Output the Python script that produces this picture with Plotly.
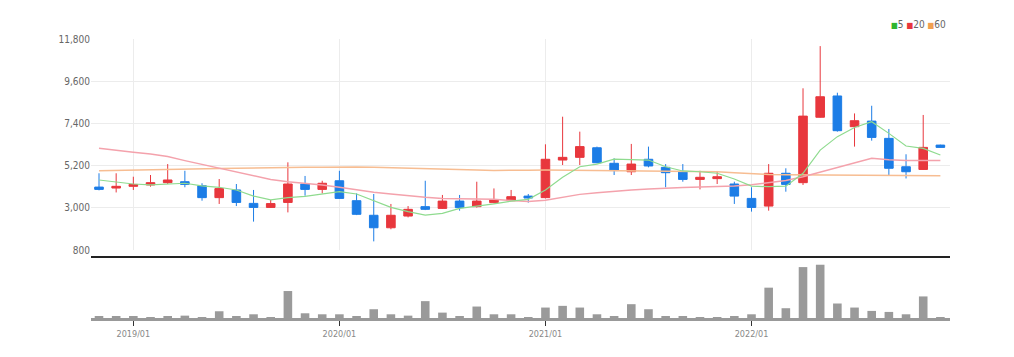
import plotly.graph_objects as go

months = ["2018/11", "2018/12"] + [f"{y}/{m:02d}" for y in (2019, 2020, 2021, 2022) for m in range(1, 13)]

open_ = [4080, 4030, 4120, 4190, 4310, 4360, 4150, 3530, 3930, 3230,
         3020, 3280, 4240, 3960, 4410, 3370, 2610, 1960, 2570, 3060,
         2970, 3350, 3060, 3270, 3370, 3610, 3530, 5490, 5630, 6130,
         5320, 4880, 5530, 5110, 4880, 4480, 4520, 4240, 3490, 3090,
         4800, 4310, 7720, 8830, 7230, 7520, 6620, 5140, 5000, 6270]
high = [4800, 4800, 4620, 4710, 5280, 4930, 4280, 4500, 4240, 3930,
        3410, 5370, 4660, 4410, 4930, 3750, 3720, 3200, 3090, 4410,
        3670, 3670, 4360, 4010, 3930, 3720, 6310, 7750, 6970, 6190,
        5580, 6330, 6190, 5280, 5280, 4930, 4920, 4360, 4070, 5280,
        5060, 9230, 11430, 9000, 7920, 8320, 7110, 5790, 7840, 6290]
low = [3910, 3800, 3930, 4100, 4240, 4070, 3370, 3200, 3090, 2280,
       3000, 2760, 3630, 3750, 3460, 2620, 1250, 1880, 2500, 2880,
       2940, 2850, 3010, 3230, 3370, 3270, 3490, 5230, 5230, 5320,
       4710, 4710, 5110, 4070, 4360, 3960, 4240, 3200, 2800, 2850,
       3840, 4190, 7700, 6970, 6190, 6500, 4660, 4530, 4970, 6140]
close = [3960, 4120, 4220, 4310, 4450, 4220, 3530, 4000, 3280, 3020,
         3220, 4240, 3960, 4280, 3490, 2660, 1960, 2610, 2920, 2920,
         3350, 3010, 3350, 3410, 3580, 3510, 5530, 5630, 6190, 5350,
         4940, 5280, 5180, 4830, 4480, 4590, 4620, 3610, 3020, 4800,
         4220, 7780, 8790, 7020, 7540, 6670, 5060, 4880, 6150, 6150]

ma5 = [4450, 4360, 4240, 4190, 4220, 4280, 4140, 4070, 3930, 3610,
       3410, 3530, 3600, 3720, 3840, 3720, 3370, 3020, 2800, 2620,
       2710, 2970, 3090, 3200, 3350, 3440, 3930, 4590, 5140, 5280,
       5540, 5530, 5490, 5140, 4920, 4880, 4800, 4500, 4130, 4100,
       4130, 4800, 6010, 6710, 7190, 7490, 6880, 6220, 6100, 5750]
ma20 = [6100, 5980, 5890, 5800, 5670, 5460, 5270, 5060, 4850, 4660,
        4480, 4360, 4280, 4190, 4070, 3930, 3810, 3720, 3630, 3550,
        3490, 3480, 3460, 3440, 3380, 3330, 3400, 3540, 3700, 3790,
        3870, 3930, 3980, 4030, 4060, 4090, 4110, 4140, 4200, 4300,
        4420, 4620, 4850, 5100, 5350, 5580, 5500, 5460, 5460, 5460]
ma60 = [4930, 4950, 4970, 5000, 5020, 5030, 5040, 5050, 5060, 5080,
        5090, 5100, 5110, 5120, 5140, 5130, 5110, 5080, 5060, 5030,
        5000, 4990, 4970, 4950, 4940, 4960, 4970, 4960, 4960, 4950,
        4940, 4940, 4930, 4930, 4920, 4900, 4880, 4830, 4770, 4740,
        4720, 4710, 4710, 4700, 4700, 4700, 4690, 4680, 4670, 4670]

volume = [50, 50, 50, 20, 60, 70, 20, 200, 50, 110,
          20, 800, 140, 110, 110, 60, 260, 110, 70, 500,
          160, 60, 340, 110, 110, 10, 310, 360, 310, 110,
          60, 410, 260, 50, 50, 20, 20, 60, 110, 900,
          290, 1510, 1580, 430, 310, 210, 180, 110, 640, 5]

price_ticks = [800, 3000, 5200, 7400, 9600, 11800]
year_ticks = ["2019/01", "2020/01", "2021/01", "2022/01"]

RED = "#e8373d"
BLUE = "#1c7de6"
FONT = "Liberation Sans Narrow, DejaVu Sans Condensed, Roboto, Arial, sans-serif"

fig = go.Figure()

fig.add_trace(go.Scatter(x=months, y=ma60, mode="lines", line=dict(color="#f7bd92", width=1.5),
                         xaxis="x", yaxis="y", showlegend=False, name="60"))
fig.add_trace(go.Scatter(x=months, y=ma20, mode="lines", line=dict(color="#f4a2ac", width=1.5),
                         xaxis="x", yaxis="y", showlegend=False, name="20"))
fig.add_trace(go.Scatter(x=months, y=ma5, mode="lines", line=dict(color="#8fdb8f", width=1.2),
                         xaxis="x", yaxis="y", showlegend=False, name="5"))

fig.add_trace(go.Candlestick(
    x=months, open=open_, high=high, low=low, close=close,
    increasing=dict(line=dict(color=RED, width=1), fillcolor=RED),
    decreasing=dict(line=dict(color=BLUE, width=1), fillcolor=BLUE),
    whiskerwidth=0, xaxis="x", yaxis="y", showlegend=False, name="price"))

fig.add_trace(go.Bar(x=months, y=volume, width=0.5, marker=dict(color="#9a9a9a", line=dict(width=0)),
                     xaxis="x2", yaxis="y2", showlegend=False, name="volume"))

H = 279.0
SQ = 'font-size:8px'
fig.update_layout(
    width=1014, height=357,
    margin=dict(l=83, r=72, t=31, b=47),
    paper_bgcolor="white", plot_bgcolor="white",
    font=dict(family=FONT, size=10, color="#666"),
    boxgap=0.5, boxgroupgap=0,
    xaxis=dict(type="category", domain=[0, 1], anchor="y", range=[-0.466, 49.56],
               rangeslider=dict(visible=False), tickvals=year_ticks, showticklabels=False,
               showgrid=True, gridcolor="#ececec", gridwidth=1, zeroline=False, showline=False,
               ticks=""),
    yaxis=dict(domain=[(318 - 250) / H, 1], range=[800, 11800], tickvals=price_ticks,
               tickformat=",", showgrid=True, gridcolor="#ececec", gridwidth=1,
               zeroline=False, showline=False, ticks="", tickfont=dict(size=10, color="#666")),
    xaxis2=dict(type="category", domain=[0, 1], anchor="y2", matches="x", range=[-0.466, 49.56],
                tickvals=year_ticks, showgrid=False, showline=True, linecolor="#999", linewidth=3,
                ticks="outside", ticklen=5, tickwidth=1, tickcolor="#333",
                tickfont=dict(size=9, color="#888")),
    yaxis2=dict(domain=[0, (318 - 259) / H], range=[0, 1750], showticklabels=False,
                showgrid=False, zeroline=False, showline=False, ticks=""),
    shapes=[dict(type="line", xref="paper", yref="paper", x0=0, x1=1,
                 y0=(318 - 257) / H, y1=(318 - 257) / H, line=dict(color="#222", width=2))],
    annotations=[dict(xref="paper", yref="paper", x=0.998, y=(318 - 25) / H, xanchor="right",
                      yanchor="middle", showarrow=False,
                      text=f'<span style="color:#2fb52f;{SQ}">■</span>5 '
                           f'<span style="color:#e8363c;{SQ}">■</span>20 '
                           f'<span style="color:#f0a050;{SQ}">■</span>60',
                      font=dict(size=10, color="#666", family=FONT))],
)

fig.write_html("out.html")
